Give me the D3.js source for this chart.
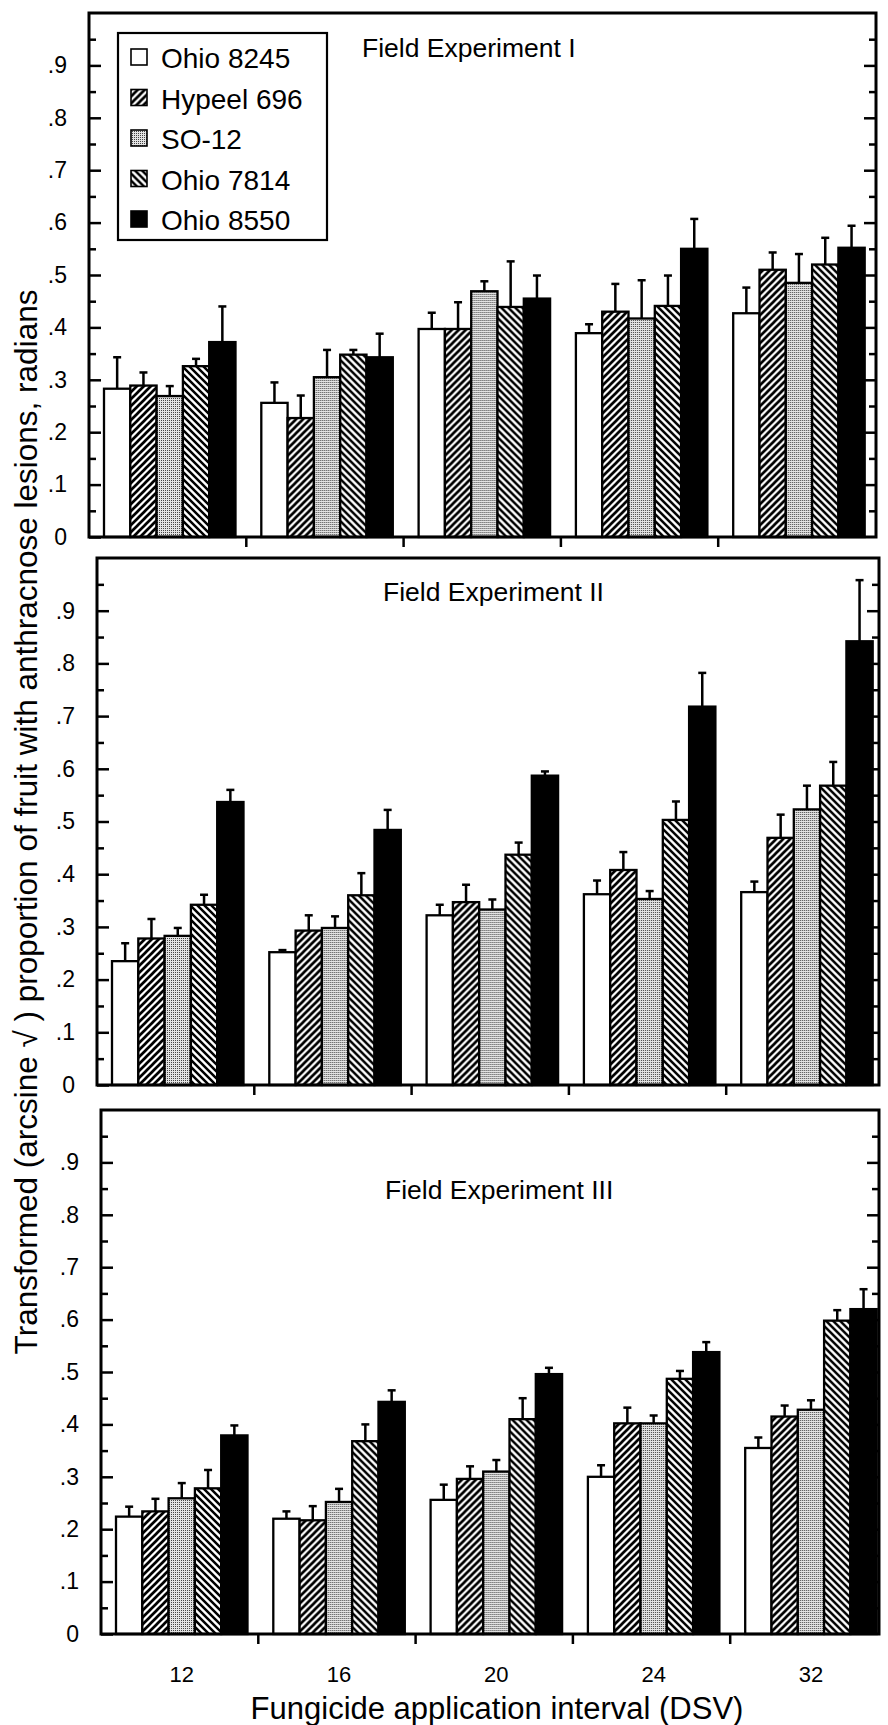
<!DOCTYPE html>
<html>
<head>
<meta charset="utf-8">
<script src="https://cdn.jsdelivr.net/npm/d3@7"></script>
<style>
  html, body { margin: 0; padding: 0; background: #fff; }
  svg { display: block; font-family: "Liberation Sans", Arial, Helvetica, sans-serif; }
</style>
</head>
<body>
<div id="chart"></div>
<script>
/* ---- data ------------------------------------------------------------ */
var intervals = ["12", "16", "20", "24", "32"];
var cultivars = ["Ohio 8245", "Hypeel 696", "SO-12", "Ohio 7814", "Ohio 8550"];
var yMajor = [0, .1, .2, .3, .4, .5, .6, .7, .8, .9];
var yMinor = [.05, .15, .25, .35, .45, .55, .65, .75, .85, .95];
var panelTitles = ["Field Experiment I", "Field Experiment II", "Field Experiment III"];

// rows = interval, columns = cultivar
var exp1Means = [
  [.283, .289, .269, .326, .372],
  [.256, .227, .305, .348, .343],
  [.397, .397, .469, .439, .455],
  [.389, .430, .417, .441, .550],
  [.427, .510, .485, .520, .552]
];
var exp1Err = [
  [.060, .025, .019, .014, .068],
  [.039, .043, .052, .009, .045],
  [.031, .051, .019, .087, .044],
  [.017, .053, .073, .058, .057],
  [.049, .033, .055, .051, .042]
];
var exp2Means = [
  [.235, .278, .283, .342, .537],
  [.252, .293, .298, .360, .484],
  [.322, .347, .333, .437, .587],
  [.362, .408, .353, .503, .718],
  [.366, .469, .523, .568, .842]
];
var exp2Err = [
  [.034, .037, .015, .019, .023],
  [.004, .029, .022, .042, .038],
  [.020, .033, .019, .023, .008],
  [.026, .034, .015, .035, .064],
  [.020, .044, .045, .045, .116]
];
var exp3Means = [
  [.224, .234, .259, .278, .379],
  [.220, .217, .252, .368, .443],
  [.256, .296, .310, .410, .496],
  [.300, .402, .402, .487, .538],
  [.355, .415, .428, .598, .620]
];
var exp3Err = [
  [.019, .024, .029, .035, .019],
  [.014, .027, .025, .032, .022],
  [.029, .024, .022, .040, .012],
  [.022, .030, .015, .015, .019],
  [.020, .021, .018, .020, .038]
];

/* ---- layout ------------------------------------------------------------ */
var width = 888, height = 1725;
var bandW = 157.3;

// each panel box (the scanned figure is a little skewed, so they differ)
var panels = [
  { title: panelTitles[0], means: exp1Means, err: exp1Err, left: 89,  right: 876, top: 13,   zero: 537,  titleX: 362, titleY: 57 },
  { title: panelTitles[1], means: exp2Means, err: exp2Err, left: 97,  right: 879, top: 558,  zero: 1085, titleX: 383, titleY: 601 },
  { title: panelTitles[2], means: exp3Means, err: exp3Err, left: 101, right: 879, top: 1110, zero: 1634, titleX: 385, titleY: 1199 }
];

var svg = d3.select("#chart").append("svg")
    .attr("width", width)
    .attr("height", height);

/* fill patterns */
var defs = svg.append("defs");

var fwd = defs.append("pattern").attr("id", "hatchFwd")
    .attr("patternUnits", "userSpaceOnUse").attr("width", 7).attr("height", 7);
fwd.append("rect").attr("width", 7).attr("height", 7).attr("fill", "#fff");
fwd.append("path").attr("d", "M-1,1 l2,-2 M0,7 l7,-7 M6,8 l2,-2")
    .attr("stroke", "#000").attr("stroke-width", 2.7);

var back = defs.append("pattern").attr("id", "hatchBack")
    .attr("patternUnits", "userSpaceOnUse").attr("width", 7).attr("height", 7);
back.append("rect").attr("width", 7).attr("height", 7).attr("fill", "#fff");
back.append("path").attr("d", "M-1,6 l2,2 M0,0 l7,7 M6,-1 l2,2")
    .attr("stroke", "#000").attr("stroke-width", 2.5);

var dots = defs.append("pattern").attr("id", "stipple")
    .attr("patternUnits", "userSpaceOnUse").attr("width", 2).attr("height", 2);
dots.append("rect").attr("width", 2).attr("height", 2).attr("fill", "#e2e2e2");
dots.append("rect").attr("width", 1).attr("height", 1).attr("fill", "#444");

var fills = d3.scaleOrdinal()
    .domain(cultivars)
    .range(["#fff", "url(#hatchFwd)", "url(#stipple)", "url(#hatchBack)", "#000"]);

/* ---- draw each experiment ------------------------------------------- */
panels.forEach(function(pn, pi) {
    var x = d3.scaleBand().domain(intervals).range([pn.left, pn.left + bandW * intervals.length]);
    var xIn = d3.scaleBand().domain(cultivars).range([15, 15 + 131.5]);
    var y = d3.scaleLinear().domain([0, 1]).range([pn.zero, pn.top]);

    var g = svg.append("g");

    // bars, grouped by interval
    var groups = g.selectAll("g.grp")
        .data(intervals)
        .join("g")
        .attr("class", "grp")
        .attr("transform", function(d) { return "translate(" + x(d) + ",0)"; });

    var cells = groups.selectAll("g.cell")
        .data(function(d, i) {
            return cultivars.map(function(c, j) { return { c: c, v: pn.means[i][j], e: pn.err[i][j] }; });
        })
        .join("g")
        .attr("class", "cell");

    cells.append("rect")
        .attr("x", function(d) { return xIn(d.c); })
        .attr("y", function(d) { return y(d.v); })
        .attr("width", xIn.bandwidth())
        .attr("height", function(d) { return y(0) - y(d.v); })
        .attr("fill", function(d) { return fills(d.c); })
        .attr("stroke", "#000")
        .attr("stroke-width", 2.3);

    // error bars (upper half only)
    cells.append("line")
        .attr("x1", function(d) { return xIn(d.c) + xIn.bandwidth() / 2; })
        .attr("x2", function(d) { return xIn(d.c) + xIn.bandwidth() / 2; })
        .attr("y1", function(d) { return y(d.v); })
        .attr("y2", function(d) { return y(d.v + d.e); })
        .attr("stroke", "#000").attr("stroke-width", 2.5);
    cells.append("line")
        .attr("x1", function(d) { return xIn(d.c) + xIn.bandwidth() / 2 - 4; })
        .attr("x2", function(d) { return xIn(d.c) + xIn.bandwidth() / 2 + 4; })
        .attr("y1", function(d) { return y(d.v + d.e); })
        .attr("y2", function(d) { return y(d.v + d.e); })
        .attr("stroke", "#000").attr("stroke-width", 2.5);

    // frame
    g.append("rect")
        .attr("x", pn.left).attr("y", pn.top)
        .attr("width", pn.right - pn.left).attr("height", pn.zero - pn.top)
        .attr("fill", "none").attr("stroke", "#000").attr("stroke-width", 3);

    // left axis: labels + inward ticks
    g.append("g")
        .attr("transform", "translate(" + pn.left + ",0)")
        .call(d3.axisLeft(y).tickValues(yMajor).tickSize(-12).tickPadding(22)
            .tickFormat(function(d) { return d === 0 ? "0" : d3.format(".1f")(d).replace(/^0/, ""); }))
        .call(function(a) { a.select(".domain").remove(); })
        .call(function(a) {
            a.selectAll(".tick line").attr("stroke-width", 2.5);
            a.selectAll(".tick text").attr("font-size", 23).attr("fill", "#000")
                .attr("font-family", "Liberation Sans, Arial, sans-serif");
        });
    g.append("g")
        .attr("transform", "translate(" + pn.left + ",0)")
        .call(d3.axisLeft(y).tickValues(yMinor).tickSize(-7).tickFormat(""))
        .call(function(a) { a.select(".domain").remove(); a.selectAll(".tick line").attr("stroke-width", 2.5); });

    // right border ticks (pointing inward)
    g.append("g")
        .attr("transform", "translate(" + pn.right + ",0)")
        .call(d3.axisRight(y).tickValues(yMajor.slice(1)).tickSize(-12).tickFormat(""))
        .call(function(a) { a.select(".domain").remove(); a.selectAll(".tick line").attr("stroke-width", 2.5); });
    g.append("g")
        .attr("transform", "translate(" + pn.right + ",0)")
        .call(d3.axisRight(y).tickValues(yMinor).tickSize(-7).tickFormat(""))
        .call(function(a) { a.select(".domain").remove(); a.selectAll(".tick line").attr("stroke-width", 2.5); });

    // ticks between interval groups, under the zero line
    g.selectAll("line.xtick")
        .data(intervals.slice(1))
        .join("line")
        .attr("class", "xtick")
        .attr("x1", function(d) { return x(d); })
        .attr("x2", function(d) { return x(d); })
        .attr("y1", y(0))
        .attr("y2", y(0) + 10)
        .attr("stroke", "#000").attr("stroke-width", 2.5);

    // panel title
    g.append("text")
        .attr("x", pn.titleX).attr("y", pn.titleY)
        .attr("font-size", 26.5)
        .text(pn.title);

    // interval labels only under the last panel
    if (pi === panels.length - 1) {
        g.selectAll("text.xlab")
            .data(intervals)
            .join("text")
            .attr("class", "xlab")
            .attr("x", function(d) { return x(d) + 15 + 131.5 / 2; })
            .attr("y", 1682)
            .attr("text-anchor", "middle")
            .attr("font-size", 22)
            .text(function(d) { return d; });
    }

    // legend inside the first panel
    if (pi === 0) {
        var lg = g.append("g");
        lg.append("rect")
            .attr("x", 118).attr("y", 33).attr("width", 209).attr("height", 207)
            .attr("fill", "#fff").attr("stroke", "#000").attr("stroke-width", 2.2);
        var rows = lg.selectAll("g.lrow")
            .data(cultivars)
            .join("g")
            .attr("class", "lrow")
            .attr("transform", function(d, i) { return "translate(0," + (68 + i * 40.5) + ")"; });
        rows.append("rect")
            .attr("x", 131).attr("y", -19).attr("width", 16).attr("height", 16)
            .attr("fill", function(d) { return fills(d); })
            .attr("stroke", "#000").attr("stroke-width", 1.6);
        rows.append("text")
            .attr("x", 161).attr("y", 0)
            .attr("font-size", 28)
            .text(function(d) { return d; });
    }
});

/* axis titles */
svg.append("text")
    .attr("x", 497).attr("y", 1719)
    .attr("text-anchor", "middle")
    .attr("font-size", 31)
    .text("Fungicide application interval (DSV)");

svg.append("text")
    .attr("transform", "translate(37,822) rotate(-90)")
    .attr("text-anchor", "middle")
    .attr("font-size", 31.5)
    .text("Transformed (arcsine \u221A ) proportion of fruit with anthracnose lesions, radians");
</script>
</body>
</html>
